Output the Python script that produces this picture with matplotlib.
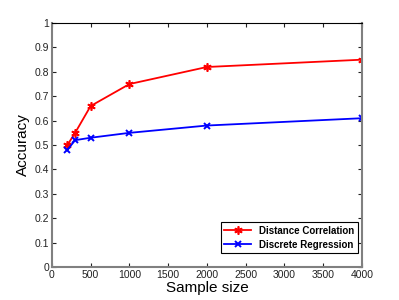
import matplotlib
matplotlib.use("Agg")
import matplotlib.pyplot as plt

plt.rcParams["font.family"] = ["Liberation Sans", "DejaVu Sans"]

tamanos = [200, 300, 500, 1000, 2000, 4000]
dist_corr = [0.50, 0.55, 0.66, 0.75, 0.82, 0.85]
disc_reg = [0.48, 0.52, 0.53, 0.55, 0.58, 0.61]

fig = plt.figure(figsize=(3.99, 3.0), dpi=100)
ax = fig.add_axes([0.130, 0.110, 0.777, 0.813])

ax.plot(tamanos, dist_corr, color="red", lw=1.3, marker=(6, 2, 0), ms=6, mew=1.2,
        label="Distance Correlation")
ax.plot(tamanos, disc_reg, color="blue", lw=1.3, marker="x", ms=4.5, mew=1.4,
        label="Discrete Regression")

ax.set_xlim(0, 4000)
ax.set_ylim(0, 1)
ax.set_xticks(range(0, 4001, 500))
ax.set_yticks([i / 10 for i in range(11)])
ax.set_yticklabels(["0", "0.1", "0.2", "0.3", "0.4", "0.5", "0.6", "0.7", "0.8", "0.9", "1"])
ax.tick_params(direction="in", length=3, labelsize=7.5, top=True, right=True, pad=2,
               colors="#222222")
for lado in ["left", "bottom", "right"]:
    ax.spines[lado].set_color("#808080")
    ax.spines[lado].set_linewidth(1.5)
ax.spines["top"].set_linewidth(0.8)

ax.set_xlabel("Sample size", fontsize=11, labelpad=1)
ax.set_ylabel("Accuracy", fontsize=11, labelpad=3)

leg = ax.legend(loc="lower right", bbox_to_anchor=(0.987, 0.057), borderaxespad=0,
                prop={"weight": "bold", "size": 7},
                fancybox=False, edgecolor="black", framealpha=1, handlelength=2.8,
                borderpad=0.35, labelspacing=0.4)
leg.get_frame().set_linewidth(0.8)

fig.savefig("out.png", dpi=100)
